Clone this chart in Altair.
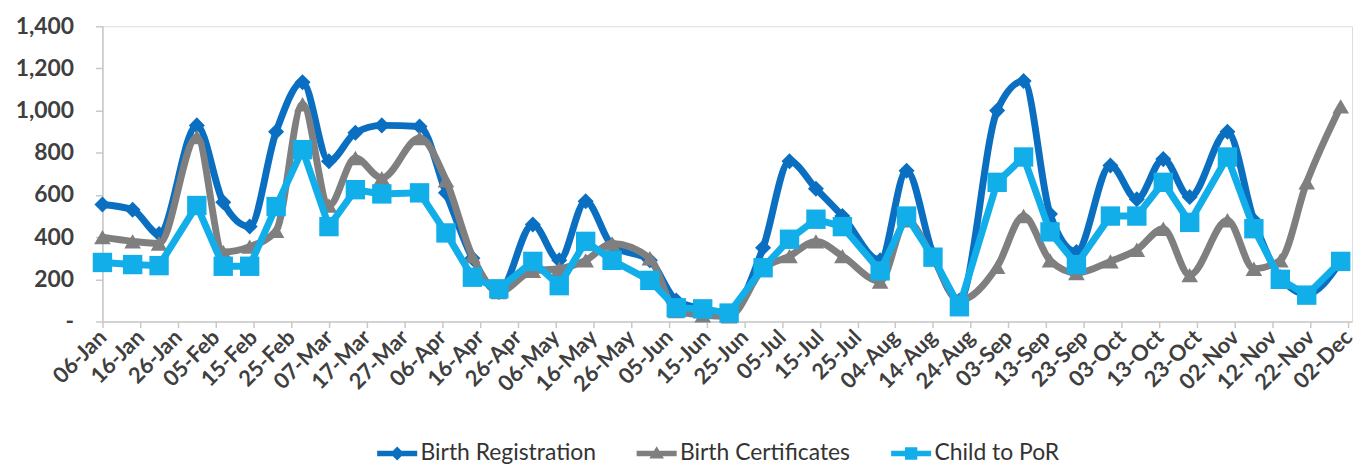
import altair as alt
import pandas as pd

dates = ["2019-01-06","2019-01-14","2019-01-21","2019-01-31","2019-02-07","2019-02-14","2019-02-21","2019-02-28",
         "2019-03-07","2019-03-14","2019-03-21","2019-03-31","2019-04-07","2019-04-14","2019-04-21","2019-04-30",
         "2019-05-07","2019-05-14","2019-05-21","2019-05-31","2019-06-07","2019-06-14","2019-06-21","2019-06-30",
         "2019-07-07","2019-07-14","2019-07-21","2019-07-31","2019-08-07","2019-08-14","2019-08-21","2019-08-31",
         "2019-09-07","2019-09-14","2019-09-21","2019-09-30","2019-10-07","2019-10-14","2019-10-21","2019-10-31",
         "2019-11-07","2019-11-14","2019-11-21","2019-11-30"]

birth_registration = [555, 530, 415, 930, 565, 450, 900, 1135, 760, 895, 930, 925, 610, 300, 140, 460,
                      290, 570, 360, 290, 100, 60, 40, 350, 760, 630, 500, 290, 715, 320, 100, 1000,
                      1140, 510, 330, 740, 580, 770, 590, 900, 480, 210, 130, 285]
birth_certificates = [400, 380, 370, 875, 330, 355, 430, 1030, 550, 775, 680, 870, 670, 310, 140, 240,
                      250, 290, 370, 300, 50, 30, 25, 250, 310, 380, 310, 190, 480, 300, 100, 260,
                      500, 290, 230, 285, 340, 440, 220, 480, 250, 290, 660, 1020]
child_to_por = [280, 270, 265, 550, 262, 262, 545, 815, 450, 625, 605, 610, 420, 210, 155, 285,
                170, 380, 290, 195, 65, 60, 40, 255, 390, 485, 450, 240, 500, 305, 70, 660,
                780, 425, 270, 500, 500, 660, 470, 780, 440, 200, 125, 285]

series_names = ["Birth Registration", "Birth Certificates", "Child to PoR"]
series_colors = ["#0a6fc0", "#7f7f7f", "#12aeea"]
series_shapes = ["diamond", "triangle-up", "square"]

tick_dates = ["2019-01-06","2019-01-16","2019-01-26","2019-02-05","2019-02-15","2019-02-25","2019-03-07",
              "2019-03-17","2019-03-27","2019-04-06","2019-04-16","2019-04-26","2019-05-06","2019-05-16",
              "2019-05-26","2019-06-05","2019-06-15","2019-06-25","2019-07-05","2019-07-15","2019-07-25",
              "2019-08-04","2019-08-14","2019-08-24","2019-09-03","2019-09-13","2019-09-23","2019-10-03",
              "2019-10-13","2019-10-23","2019-11-02","2019-11-12","2019-11-22","2019-12-02"]
x_domain = ["2019-01-06", "2019-12-03"]
y_ticks = [0, 200, 400, 600, 800, 1000, 1200, 1400]

# legend symbols: a thick line with the series marker on it
legend_paths = [
    "M-2.6,-0.35L2.6,-0.35L2.6,0.35L-2.6,0.35Z M0,-0.9L0.9,0L0,0.9L-0.9,0Z",
    "M-2.6,-0.35L2.6,-0.35L2.6,0.35L-2.6,0.35Z M0,-0.95L0.95,0.65L-0.95,0.65Z",
    "M-2.6,-0.35L2.6,-0.35L2.6,0.35L-2.6,0.35Z M-0.8,-0.8L0.8,-0.8L0.8,0.8L-0.8,0.8Z",
]


def ms(s):
    return int(pd.Timestamp(s, tz="UTC").value // 10**6)


rows = []
for name, vals in zip(series_names, [birth_registration, birth_certificates, child_to_por]):
    for d, v in zip(dates, vals):
        rows.append({"date": d, "value": v, "series": name})
df = pd.DataFrame(rows)

FONT = "Lato"
LABEL_COLOR = "#3f3f3f"
AXIS_COLOR = "#c8c8c8"

x_enc = alt.X(
    "date:T",
    scale=alt.Scale(type="utc", domain=[ms(x_domain[0]), ms(x_domain[1])], nice=False),
    axis=alt.Axis(
        values=[ms(t) for t in tick_dates], labelExpr="utcFormat(datum.value, '%d-%b')",
        labelAngle=-45, labelAlign="right", labelBaseline="middle",
        labelFont=FONT, labelFontWeight="bold", labelFontSize=22, labelColor=LABEL_COLOR,
        labelPadding=6, tickSize=6, tickColor=AXIS_COLOR, domainColor=AXIS_COLOR,
        domainWidth=1.5, tickWidth=1.5, grid=False, title=None, labelOverlap=False,
        labelBound=False, labelFlush=False,
    ),
)
y_enc = alt.Y(
    "value:Q",
    scale=alt.Scale(domain=[0, 1400], nice=False),
    axis=alt.Axis(
        values=y_ticks, labelExpr="datum.value == 0 ? '-' : format(datum.value, ',')",
        labelFont=FONT, labelFontWeight="bold", labelFontSize=23, labelColor=LABEL_COLOR,
        labelPadding=22, tickSize=7, tickColor=AXIS_COLOR, domainColor=AXIS_COLOR,
        domainWidth=1.5, tickWidth=1.5, grid=False, title=None,
    ),
)

color_scale = alt.Scale(domain=series_names, range=series_colors)
shape_scale = alt.Scale(domain=series_names, range=legend_paths)

legend = alt.Legend(
    title=None, orient="none", direction="horizontal", legendX=285, legendY=418,
    labelFont=FONT, labelFontSize=23, labelColor="#333333", symbolSize=240, labelLimit=400,
    symbolStrokeWidth=0, labelOffset=12, columnPadding=40, symbolOpacity=1,
)

base = alt.Chart(df)


def sub(name):
    return base.transform_filter(alt.datum.series == name)


def line(name, interp):
    return sub(name).mark_line(strokeWidth=7, interpolate=interp).encode(
        x=x_enc, y=y_enc, color=alt.Color("series:N", scale=color_scale, legend=None))


def points(name, size):
    return sub(name).mark_point(
        filled=True, opacity=1, size=size, strokeWidth=0,
        shape=series_shapes[series_names.index(name)],
    ).encode(x=x_enc, y=y_enc, color=alt.Color("series:N", scale=color_scale, legend=None))


legend_layer = base.transform_filter("false").mark_point(filled=True, opacity=1).encode(
    x=x_enc, y=y_enc,
    color=alt.Color("series:N", scale=color_scale, legend=legend),
    shape=alt.Shape("series:N", scale=shape_scale, legend=legend),
)

chart = alt.layer(
    line("Birth Registration", "monotone"),
    points("Birth Registration", 260),
    line("Birth Certificates", "monotone"),
    points("Birth Certificates", 280),
    line("Child to PoR", "linear"),
    points("Child to PoR", 380),
    legend_layer,
).resolve_scale(color="independent", shape="independent").properties(
    width=1257, height=297,
    autosize=alt.AutoSizeParams(type="none"),
    padding={"left": 95, "top": 17, "right": 5, "bottom": 146},
).configure_view(stroke=None).configure(background="white")

chart.save("out.html", embed_options={"renderer": "svg", "actions": False})
